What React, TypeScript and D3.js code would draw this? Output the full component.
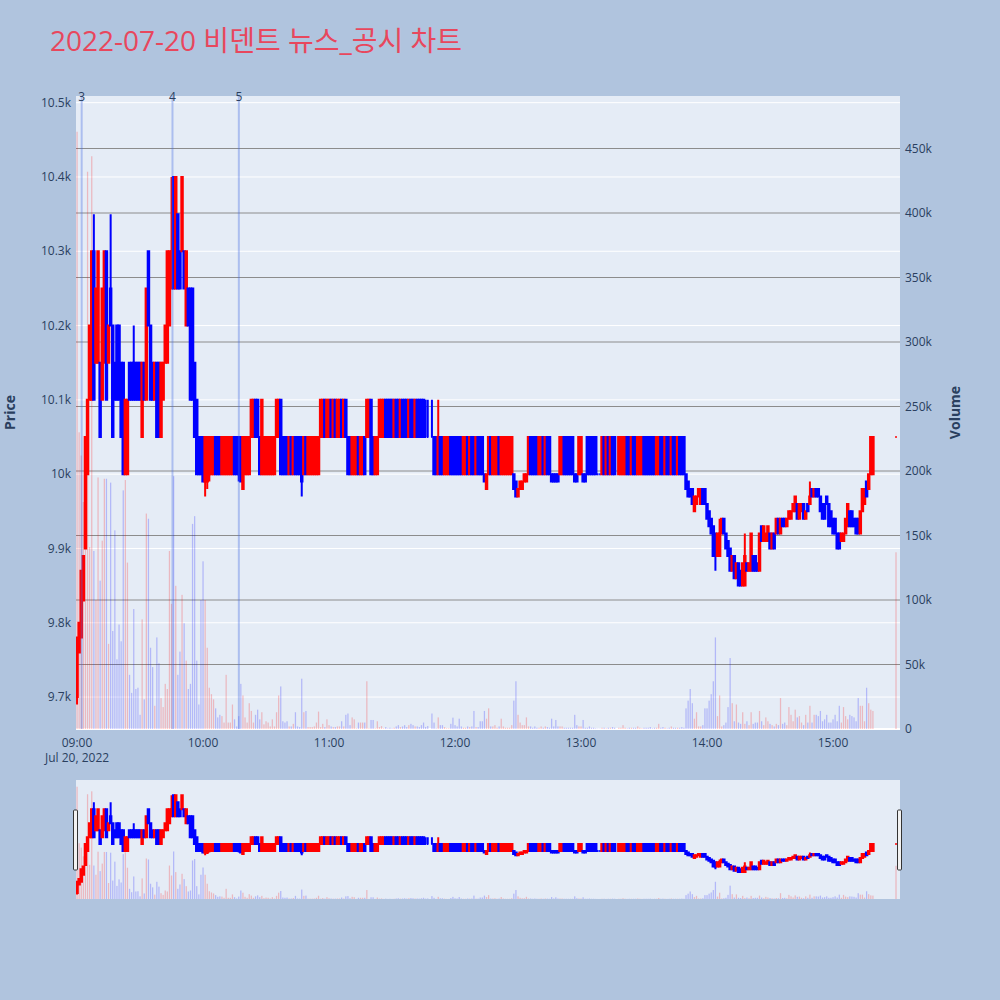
import React from 'react';
import * as d3 from 'd3';

// [open, close, volume, high?, low?] per minute; null = no trade in that minute
type Bar = [number, number, number, number?, number?] | null;

const chartTitle = '2022-07-20 비덴트 뉴스_공시 차트';
const sessionDate = 'Jul 20, 2022';
const hourLabels = ['09:00', '10:00', '11:00', '12:00', '13:00', '14:00', '15:00'];
const priceTicks = [9700, 9800, 9900, 10000, 10100, 10200, 10300, 10400, 10500];
const volumeTicks = [0, 50000, 100000, 150000, 200000, 250000, 300000, 350000, 400000, 450000];
const newsTimes = ['09:02:12', '09:45:27', '10:17:03'];
const newsLabels = ['3', '4', '5'];

const bars0900: Bar[] = [
  [9700, 9780, 463000, 9780, 9690], [9760, 9800, 230000], [9780, 9870, 212000], [9830, 9890, 176000],
  [9900, 10050, 150000], [10000, 10100, 432000], [10100, 10200, 141000], [10100, 10300, 444000],
  [10300, 10100, 138000, 10350], [10150, 10250, 100000],
  [10150, 10300, 195000], [10150, 10050, 115000], [10100, 10250, 146000], [10150, 10300, 194000],
  [10300, 10100, 194000], [10150, 10200, 66000], [10250, 10200, 191000, 10350], [10200, 10050, 76000],
  [10150, 10100, 154000], [10200, 10100, 54000],
  [10200, 10100, 81000], [10150, 10050, 68000], [10150, 10000, 185000], [10000, 10100, 193000],
  [10000, 10100, 129000], [10150, 10100, 42000], [10150, 10100, 28000], [10150, 10100, 93000, 10200],
  [10150, 10100, 31000], [10150, 10100, 32000],
  [10150, 10100, 11000], [10050, 10150, 85000], [10150, 10100, 23000], [10100, 10250, 167000],
  [10300, 10200, 163000], [10200, 10100, 63000], [10150, 10100, 48000], [10100, 10150, 18000],
  [10150, 10050, 71000], [10150, 10050, 51000],
  [10050, 10150, 24000], [10100, 10150, 17000], [10150, 10200, 35000], [10150, 10300, 31000],
  [10200, 10300, 138000], [10250, 10300, 97000, 10400], [10400, 10250, 196000], [10250, 10400, 111000],
  [10350, 10250, 42000], [10300, 10250, 60000],
  [10300, 10400, 104000], [10300, 10250, 82000], [10200, 10300, 53000], [10250, 10200, 31000],
  [10250, 10100, 35000], [10250, 10100, 159000], [10150, 10050, 165000], [10100, 10000, 53000],
  [10050, 10000, 19000], [10050, 10000, 100000],
];

const bars1000: Bar[] = [
  [10050, 9990, 130000], [9990, 10050, 100000, 10050, 9970], [9990, 10050, 63000, 10050, 9980],
  [10000, 10050, 32000, 10050, 9990], [10000, 10050, 27000], [10000, 10050, 23000], [10050, 10000, 16000],
  [10050, 10000, 9000], [10050, 10000, 11000], [10000, 10050, 10000],
  [10000, 10050, 5000], [10000, 10050, 42000], [10000, 10050, 5000], [10000, 10050, 5000],
  [10000, 10050, 19000], [10050, 10000, 7500], [10050, 10000, 2000], [10050, 10000, 10000, 10050, 9990],
  [10050, 9990, 35000], [9980, 10050, 26000],
  [10000, 10050, 9000], [10000, 10050, 5000], [10000, 10050, 20000], [10050, 10100, 14000],
  [10050, 10100, 5000], [10100, 10050, 11000], [10100, 10050, 15000], [10050, 10000, 7500],
  [10000, 10100, 13000], [10000, 10050, 3600],
  [10000, 10050, 6000], [10000, 10050, 5000], [10000, 10050, 2000], [10000, 10050, 7500],
  [10000, 10050, 2000], [10050, 10100, 13000], [10050, 10100, 26000], [10100, 10000, 33000],
  [10050, 10000, 6000], [10050, 10000, 5000],
  [10050, 10000, 6000], [10000, 10050, 2000], [10050, 10000, 2000], [10000, 10050, 4000],
  [10050, 10000, 13000], [10050, 10000, 2000], [10050, 10000, 1500], [10050, 9990, 39000, 10050, 9970],
  [10000, 10050, 13000], [10050, 10000, 14000],
  [10000, 10050, 1500], [10000, 10050, 1500], [10000, 10050, 1500], [10000, 10050, 2000],
  [10000, 10050, 5000], [10000, 10050, 13500], [10050, 10100, 1500], [10050, 10100, 4000],
  [10100, 10050, 1500], [10050, 10100, 7500],
];

const bars1100: Bar[] = [
  [10050, 10100, 3000], [10100, 10050, 2000], [10050, 10100, 1500], [10100, 10050, 1500],
  [10050, 10100, 2000], [10050, 10100, 2000], [10100, 10050, 6000], [10050, 10100, 2000],
  [10100, 10050, 11000], [10050, 10000, 12000],
  [10050, 10000, 3000], [10000, 10050, 9000], [10000, 10050, 7500], [10000, 10050, 500],
  [10050, 10000, 5000], [10000, 10050, 5000], [10000, 10050, 5000], [10050, 10000, 5000],
  [10050, 10100, 37000], [10050, 10100, 500],
  [10100, 10000, 7000], [10050, 10000, 7000], [10000, 10050, 500], [10000, 10050, 6000],
  [10050, 10100, 1500], [10050, 10100, 2300], [10050, 10100, 500], [10100, 10050, 1500],
  [10100, 10050, 500], [10100, 10050, 1000],
  [10100, 10050, 500], [10050, 10100, 1000], [10100, 10050, 2000], [10100, 10050, 3000],
  [10050, 10100, 1500], [10100, 10050, 2000], [10100, 10050, 3000], [10100, 10050, 1500],
  [10050, 10100, 3000], [10100, 10050, 4000],
  [10100, 10050, 3000], [10050, 10100, 2000], [10100, 10050, 2000], [10100, 10050, 1500],
  [10100, 10050, 3000], [10100, 10050, 5000], [10050, 10050, 1600, 10100], [10050, 10050, 2300, 10100],
  null, [10050, 10050, 12000, 10100],
  [10050, 10000, 5000], [10050, 10000, 500], [10000, 10050, 9000, 10100], [10050, 10000, 3000],
  [10050, 10000, 3000], [10000, 10050, 1500], [10000, 10050, 500], [10000, 10050, 500],
  [10050, 10000, 4000], [10050, 10000, 8800],
];

const bars1200: Bar[] = [
  [10050, 10000, 3000], [10050, 10000, 2000], [10050, 10000, 8000], [10050, 10000, 2000],
  [10000, 10050, 1000], [10000, 10050, 1000], [10050, 10000, 2000], [10000, 10050, 1500],
  [10050, 10000, 2000], [10050, 10000, 14000],
  [10000, 10050, 1500], [10050, 10000, 1500], [10050, 10000, 6000], [10050, 10000, 6000],
  [10000, 9990, 14000], [9980, 10000, 8000, 10000, 9980], [10000, 10050, 16000], [10050, 10000, 2000],
  [10000, 10050, 2000], [10000, 10050, 3000],
  [10000, 10050, 1000], [10050, 10000, 2000], [10000, 10050, 8000], [10000, 10050, 2000],
  [10000, 10050, 1000], [10000, 10050, 1000], [10000, 10050, 1000], [10000, 10050, 3000],
  [10000, 9980, 22000], [9990, 9970, 37000],
  [9970, 9980, 11000], [9980, 9990, 5000], [9980, 9990, 3000], [9990, 10000, 3000],
  [9990, 10000, 9000], [10000, 10050, 2000], [10050, 10000, 2000], [10050, 10000, 1000],
  [10050, 10000, 2000], [10050, 10000, 1000],
  [10000, 10050, 1000], [10000, 10050, 2000], [10050, 10000, 1000], [10000, 10050, 2000],
  [10050, 10000, 1500], [10050, 10000, 1000], [10000, 9990, 8000], [10000, 9990, 2000],
  [10000, 9990, 7000], [10000, 9990, 2000],
  [10000, 10050, 2000], [10000, 10050, 2000], [10050, 10000, 1000], [10050, 10000, 1000],
  [10050, 10000, 1000], [10050, 10000, 1000], [10050, 10000, 1000], [10000, 9990, 11000],
  [10000, 9990, 3000], [10000, 10050, 2000],
];

const bars1300: Bar[] = [
  [10000, 10050, 2000], [10000, 9990, 7000], [10000, 9990, 1000], [10050, 10000, 1000],
  [10050, 10000, 2000], [10050, 10000, 1000], [10050, 10000, 1000], [10050, 10000, 500],
  [10000, 10000, 300], [10000, 10000, 300],
  [10000, 10050, 1000], [10050, 10000, 1000], [10000, 10050, 500], [10050, 10000, 1000],
  [10000, 10050, 1000], [10050, 10000, 1500], [10050, 10000, 1000], null,
  [10000, 10050, 1000], [10000, 10050, 1000],
  [10000, 10050, 3000], [10000, 10050, 1000], [10050, 10000, 500], [10050, 10000, 1000],
  [10000, 10050, 1000], [10050, 10000, 1000], [10050, 10000, 1000], [10000, 10050, 2000],
  [10000, 10050, 1000], [10000, 10050, 500],
  [10050, 10000, 1000], [10050, 10000, 1000], [10050, 10000, 1000], [10050, 10000, 1500],
  [10050, 10000, 500], [10050, 10000, 1000], [10000, 10050, 1000], [10000, 10050, 4000],
  [10050, 10000, 1000], [10050, 10000, 1500],
  [10000, 10050, 1000], [10050, 10000, 500], [10050, 10000, 1000], [10000, 10050, 2000],
  [10050, 10000, 1000], [10050, 10000, 1000], [10000, 10050, 1000], [10050, 10000, 1000],
  [10050, 10000, 1500], [10050, 10000, 1000],
  [10000, 9980, 16000], [9990, 9970, 22000], [9980, 9970, 31000], [9980, 9960, 20000],
  [9950, 9970, 8000, 9970, 9950], [9960, 9970, 13000], [9970, 9980, 2000], [9960, 9980, 2000],
  [9980, 9960, 3000], [9980, 9960, 16000],
];

const bars1400: Bar[] = [
  [9960, 9940, 16000], [9950, 9930, 22000], [9940, 9920, 27000], [9930, 9890, 37000],
  [9920, 9890, 71000, 9920, 9870], [9890, 9920, 10000], [9890, 9920, 26000, 9940], [9920, 9940, 2000],
  [9940, 9920, 3000], [9920, 9900, 5000],
  [9910, 9890, 17000], [9900, 9870, 55000], [9870, 9890, 20000], [9890, 9860, 6000],
  [9860, 9880, 19000], [9880, 9850, 5000], [9870, 9850, 4000], [9850, 9880, 13000],
  [9850, 9890, 4000, 9920], [9880, 9870, 6000],
  [9870, 9880, 3000], [9870, 9920, 13000], [9890, 9870, 4000], [9890, 9870, 5000],
  [9880, 9870, 5000], [9870, 9920, 14000], [9930, 9910, 6000], [9910, 9930, 3000],
  [9910, 9920, 9000], [9910, 9930, 6000],
  [9920, 9900, 4000], [9900, 9920, 3000], [9920, 9900, 2000], [9920, 9940, 4000],
  [9940, 9920, 3000], [9920, 9940, 24000], [9940, 9930, 4000], [9940, 9930, 5000],
  [9930, 9940, 3000], [9940, 9950, 17000],
  [9940, 9950, 11000], [9950, 9960, 6000], [9950, 9970, 15000], [9960, 9940, 9000],
  [9940, 9960, 10000], [9950, 9960, 5000], [9960, 9940, 3000], [9940, 9950, 11000],
  [9960, 9950, 5000], [9960, 9970, 18000, 9990],
  [9980, 9970, 5000], [9970, 9980, 11000], [9980, 9970, 11000], [9980, 9970, 10000],
  [9970, 9950, 14000], [9960, 9940, 6000], [9960, 9940, 7500], [9970, 9960, 11000],
  [9960, 9930, 5000], [9950, 9930, 5000],
];

const bars1500: Bar[] = [
  [9940, 9920, 7500], [9940, 9920, 11000], [9920, 9900, 6000], [9920, 9900, 18000],
  [9910, 9920, 5000], [9910, 9920, 17000], [9920, 9940, 10000], [9930, 9960, 7500],
  [9950, 9930, 11000], [9950, 9930, 10000],
  [9940, 9930, 9000], [9940, 9920, 6000], [9940, 9920, 24000], [9920, 9950, 18000],
  [9950, 9980, 18000], [9960, 9980, 6000], [9990, 9970, 32000], [9980, 10000, 20000],
  [10000, 10050, 15000], [10000, 10050, 14000],
];

const closingAuctionTime = '15:30';
const closingAuction: Bar[] = [[10050, 10050, 137000]];

const sessions: [string, Bar[]][] = [
  ['09:00', bars0900], ['10:00', bars1000], ['11:00', bars1100], ['12:00', bars1200],
  ['13:00', bars1300], ['14:00', bars1400], ['15:00', bars1500], [closingAuctionTime, closingAuction],
];

const toMinute = (t: string) => {
  const [h, m, s = 0] = t.split(':').map(Number);
  return (h - 9) * 60 + m + s / 60;
};

interface Candle { m: number; open: number; close: number; high: number; low: number; volume: number; up: boolean }

const candles: Candle[] = (() => {
  const out: Candle[] = [];
  let prevClose: number | undefined;
  let prevUp = true;
  sessions.forEach(([start, bars]) => {
    const m0 = toMinute(start);
    bars.forEach((b, i) => {
      if (!b) return;
      const [open, close, volume, hi, lo] = b;
      let up: boolean;
      if (close !== open) up = close > open;
      else if (prevClose === undefined || close === prevClose) up = prevUp;
      else up = close > prevClose;
      out.push({
        m: m0 + i, open, close, volume, up,
        high: Math.max(open, close, hi ?? -Infinity),
        low: Math.min(open, close, lo ?? Infinity),
      });
      prevClose = close;
      prevUp = up;
    });
  });
  return out;
})();

const W = 1000;
const H = 1000;
const plot = { left: 76, right: 900, top: 96, bottom: 729 };
const slider = { top: 780, bottom: 899 };
const FONT = "'Open Sans', verdana, arial, sans-serif";
const TEXT = '#2a3f5f';
const UP = '#ff0000';
const DOWN = '#0000ff';

const x = d3.scaleLinear().domain([-0.5, 391.9]).range([plot.left, plot.right]);
const priceDomain = [9657, 10509];
const volumeDomain = [0, 490700];
const yPrice = d3.scaleLinear().domain(priceDomain).range([plot.bottom, plot.top]);
const yVolume = d3.scaleLinear().domain(volumeDomain).range([plot.bottom, plot.top]);
const sPrice = d3.scaleLinear().domain(priceDomain).range([slider.bottom, slider.top]);
const sVolume = d3.scaleLinear().domain(volumeDomain).range([slider.bottom, slider.top]);
const fmt = d3.format('~s');

const step = x(1) - x(0);
const boxHalf = step * 0.35;
const barHalf = step * 0.3;

const candlePath = (c: Candle, y: d3.ScaleLinear<number, number>) => {
  const cx = x(c.m);
  const yo = y(c.open);
  const yc = y(c.close);
  const top = Math.min(yo, yc);
  const bot = Math.max(yo, yc);
  return `M${cx - boxHalf},${yo}H${cx + boxHalf}V${yc}H${cx - boxHalf}Z` +
    `M${cx},${y(c.low)}V${bot}M${cx},${y(c.high)}V${top}`;
};

const Series: React.FC<{ yP: d3.ScaleLinear<number, number>; yV: d3.ScaleLinear<number, number> }> = ({ yP, yV }) => (
  <g>
    <g>
      {candles.map(c => (
        <rect
          key={`v${c.m}`}
          x={x(c.m) - barHalf}
          y={yV(c.volume)}
          width={barHalf * 2}
          height={yV(0) - yV(c.volume)}
          fill={c.up ? UP : DOWN}
          fillOpacity={0.22}
        />
      ))}
    </g>
    <g>
      {candles.map(c => (
        <path
          key={`c${c.m}`}
          d={candlePath(c, yP)}
          fill={c.up ? UP : DOWN}
          stroke={c.up ? UP : DOWN}
          strokeWidth={2}
        />
      ))}
    </g>
  </g>
);

export default function App() {
  const plotW = plot.right - plot.left;
  return (
    <svg
      width={W}
      height={H}
      style={{ position: 'absolute', left: 0, top: 0, display: 'block' }}
      fontFamily={FONT}
    >
      <defs>
        <clipPath id="main-clip">
          <rect x={plot.left} y={plot.top} width={plotW} height={plot.bottom - plot.top} />
        </clipPath>
        <clipPath id="slider-clip">
          <rect x={plot.left} y={slider.top} width={plotW} height={slider.bottom - slider.top} />
        </clipPath>
      </defs>
      <rect width={W} height={H} fill="#b0c4de" />

      <text x={50} y={51} fontSize={28} fill="#e8475d"
        fontFamily="'Open Sans', 'Noto Sans CJK KR', sans-serif">{chartTitle}</text>

      {/* main plot */}
      <rect x={plot.left} y={plot.top} width={plotW} height={plot.bottom - plot.top} fill="#e5ecf6" />
      {priceTicks.map(t => (
        <line key={`pg${t}`} x1={plot.left} x2={plot.right} y1={yPrice(t)} y2={yPrice(t)} stroke="#fff" strokeWidth={1} />
      ))}
      {volumeTicks.slice(1).map(t => (
        <line key={`vg${t}`} x1={plot.left} x2={plot.right} y1={yVolume(t)} y2={yVolume(t)} stroke="#8c8c8c" strokeWidth={1} />
      ))}
      <line x1={plot.left} x2={plot.right} y1={yVolume(0)} y2={yVolume(0)} stroke="#fff" strokeWidth={2} />

      <g clipPath="url(#main-clip)">
        <Series yP={yPrice} yV={yVolume} />
        {newsTimes.map(t => (
          <line key={t} x1={x(toMinute(t))} x2={x(toMinute(t))} y1={plot.top} y2={plot.bottom}
            stroke="royalblue" strokeOpacity={0.35} strokeWidth={2} />
        ))}
      </g>
      {newsTimes.map((t, i) => (
        <text key={`nl${t}`} x={x(toMinute(t))} y={101} fontSize={12} fill={TEXT} textAnchor="middle">{newsLabels[i]}</text>
      ))}

      {/* axes labels */}
      {priceTicks.map(t => (
        <text key={`pt${t}`} x={71} y={yPrice(t)} dy="0.35em" fontSize={12} fill={TEXT} textAnchor="end">{fmt(t)}</text>
      ))}
      {volumeTicks.map(t => (
        <text key={`vt${t}`} x={905} y={yVolume(t)} dy="0.35em" fontSize={12} fill={TEXT}>{fmt(t)}</text>
      ))}
      {hourLabels.map(h => (
        <text key={h} x={x(toMinute(h))} y={747} fontSize={12} fill={TEXT} textAnchor="middle">{h}</text>
      ))}
      <text x={x(0)} y={762} fontSize={12} fill={TEXT} textAnchor="middle">{sessionDate}</text>
      <text transform={`translate(15,${(plot.top + plot.bottom) / 2}) rotate(-90)`} fontSize={14} fontWeight="bold"
        fill={TEXT} textAnchor="middle">Price</text>
      <text transform={`translate(960,${(plot.top + plot.bottom) / 2}) rotate(-90)`} fontSize={14} fontWeight="bold"
        fill={TEXT} textAnchor="middle">Volume</text>

      {/* range slider */}
      <rect x={plot.left} y={slider.top} width={plotW} height={slider.bottom - slider.top} fill="#e5ecf6" />
      <g clipPath="url(#slider-clip)">
        <Series yP={sPrice} yV={sVolume} />
      </g>
      {[plot.left - 2.5, plot.right - 2.5].map(hx => (
        <rect key={hx} x={hx} y={810} width={4} height={60} rx={1}
          fill="#f2f2f2" stroke="#333" strokeWidth={1} />
      ))}
    </svg>
  );
}
